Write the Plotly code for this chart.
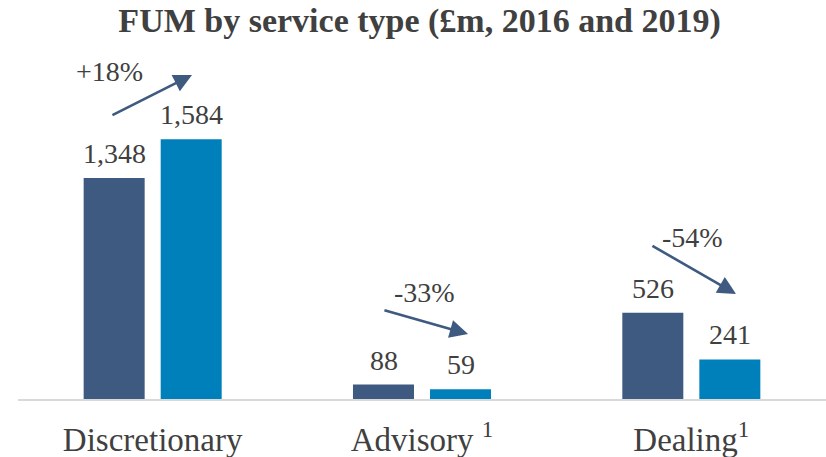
import plotly.graph_objects as go

# Funds under management by service type
categories = ["Discretionary", "Advisory <sup>1</sup>", "Dealing<sup>1</sup>"]
fum_2016 = [1348, 88, 526]
fum_2019 = [1584, 59, 241]
change_labels = ["+18%", "-33%", "-54%"]

# Arrow geometry per category: (tail_x, tail_y, head_x, head_y, label_x, label_y)
# x in category-index units, y in £m
arrows = [
    (-0.155, 1726, 0.146, 1976, -0.159, 1994),
    (0.855, 543, 1.171, 396, 1.011, 652),
    (1.850, 939, 2.166, 640, 2.003, 982),
]

DARK = "#3E5A80"
LIGHT = "#0080BA"
TEXT = "#404040"
FONT = "Liberation Serif"

fig = go.Figure()
fig.add_trace(go.Bar(x=categories, y=fum_2016, name="2016", marker=dict(color=DARK, line=dict(width=0))))
fig.add_trace(go.Bar(x=categories, y=fum_2019, name="2019", marker=dict(color=LIGHT, line=dict(width=0))))

annotations = []
bar_offset = 38.5  # px from category centre to each bar centre
for i, cat in enumerate(categories):
    for val, shift in ((fum_2016[i], -bar_offset), (fum_2019[i], bar_offset)):
        annotations.append(dict(
            x=i, y=val, xref="x", yref="y", text=f"{val:,}", showarrow=False,
            xshift=shift, yanchor="bottom", yshift=7,
            font=dict(family=FONT, size=28, color=TEXT),
        ))

for (tx, ty, hx, hy, lx, ly), lab in zip(arrows, change_labels):
    annotations.append(dict(
        x=hx, y=hy, ax=tx, ay=ty, xref="x", yref="y", axref="x", ayref="y",
        showarrow=True, arrowhead=2, arrowsize=1.4, arrowwidth=2.6, arrowcolor=DARK,
        text="", standoff=0,
    ))
    annotations.append(dict(
        x=lx, y=ly, xref="x", yref="y", text=lab, showarrow=False,
        xanchor="center", yanchor="middle",
        font=dict(family=FONT, size=28, color=TEXT),
    ))

fig.update_layout(
    width=826, height=457,
    margin=dict(l=18, r=0, t=70, b=58),
    paper_bgcolor="white", plot_bgcolor="white",
    showlegend=False,
    barmode="group", bargap=0.428, bargroupgap=0.208,
    title=dict(text="<b>FUM by service type (£m, 2016 and 2019)</b>",
               x=0.508, xanchor="center", y=0.955, yanchor="middle",
               font=dict(family=FONT, size=34, color=TEXT)),
    font=dict(family=FONT, color=TEXT),
    annotations=annotations,
)
fig.update_xaxes(
    showline=True, linecolor="#D9D9D9", linewidth=1.5,
    showgrid=False, ticks="", tickfont=dict(family=FONT, size=33, color=TEXT),
    ticklabelstandoff=11,
)
fig.update_yaxes(range=[0, 2006], visible=False, showgrid=False, zeroline=False)

fig.write_html("out.html")
